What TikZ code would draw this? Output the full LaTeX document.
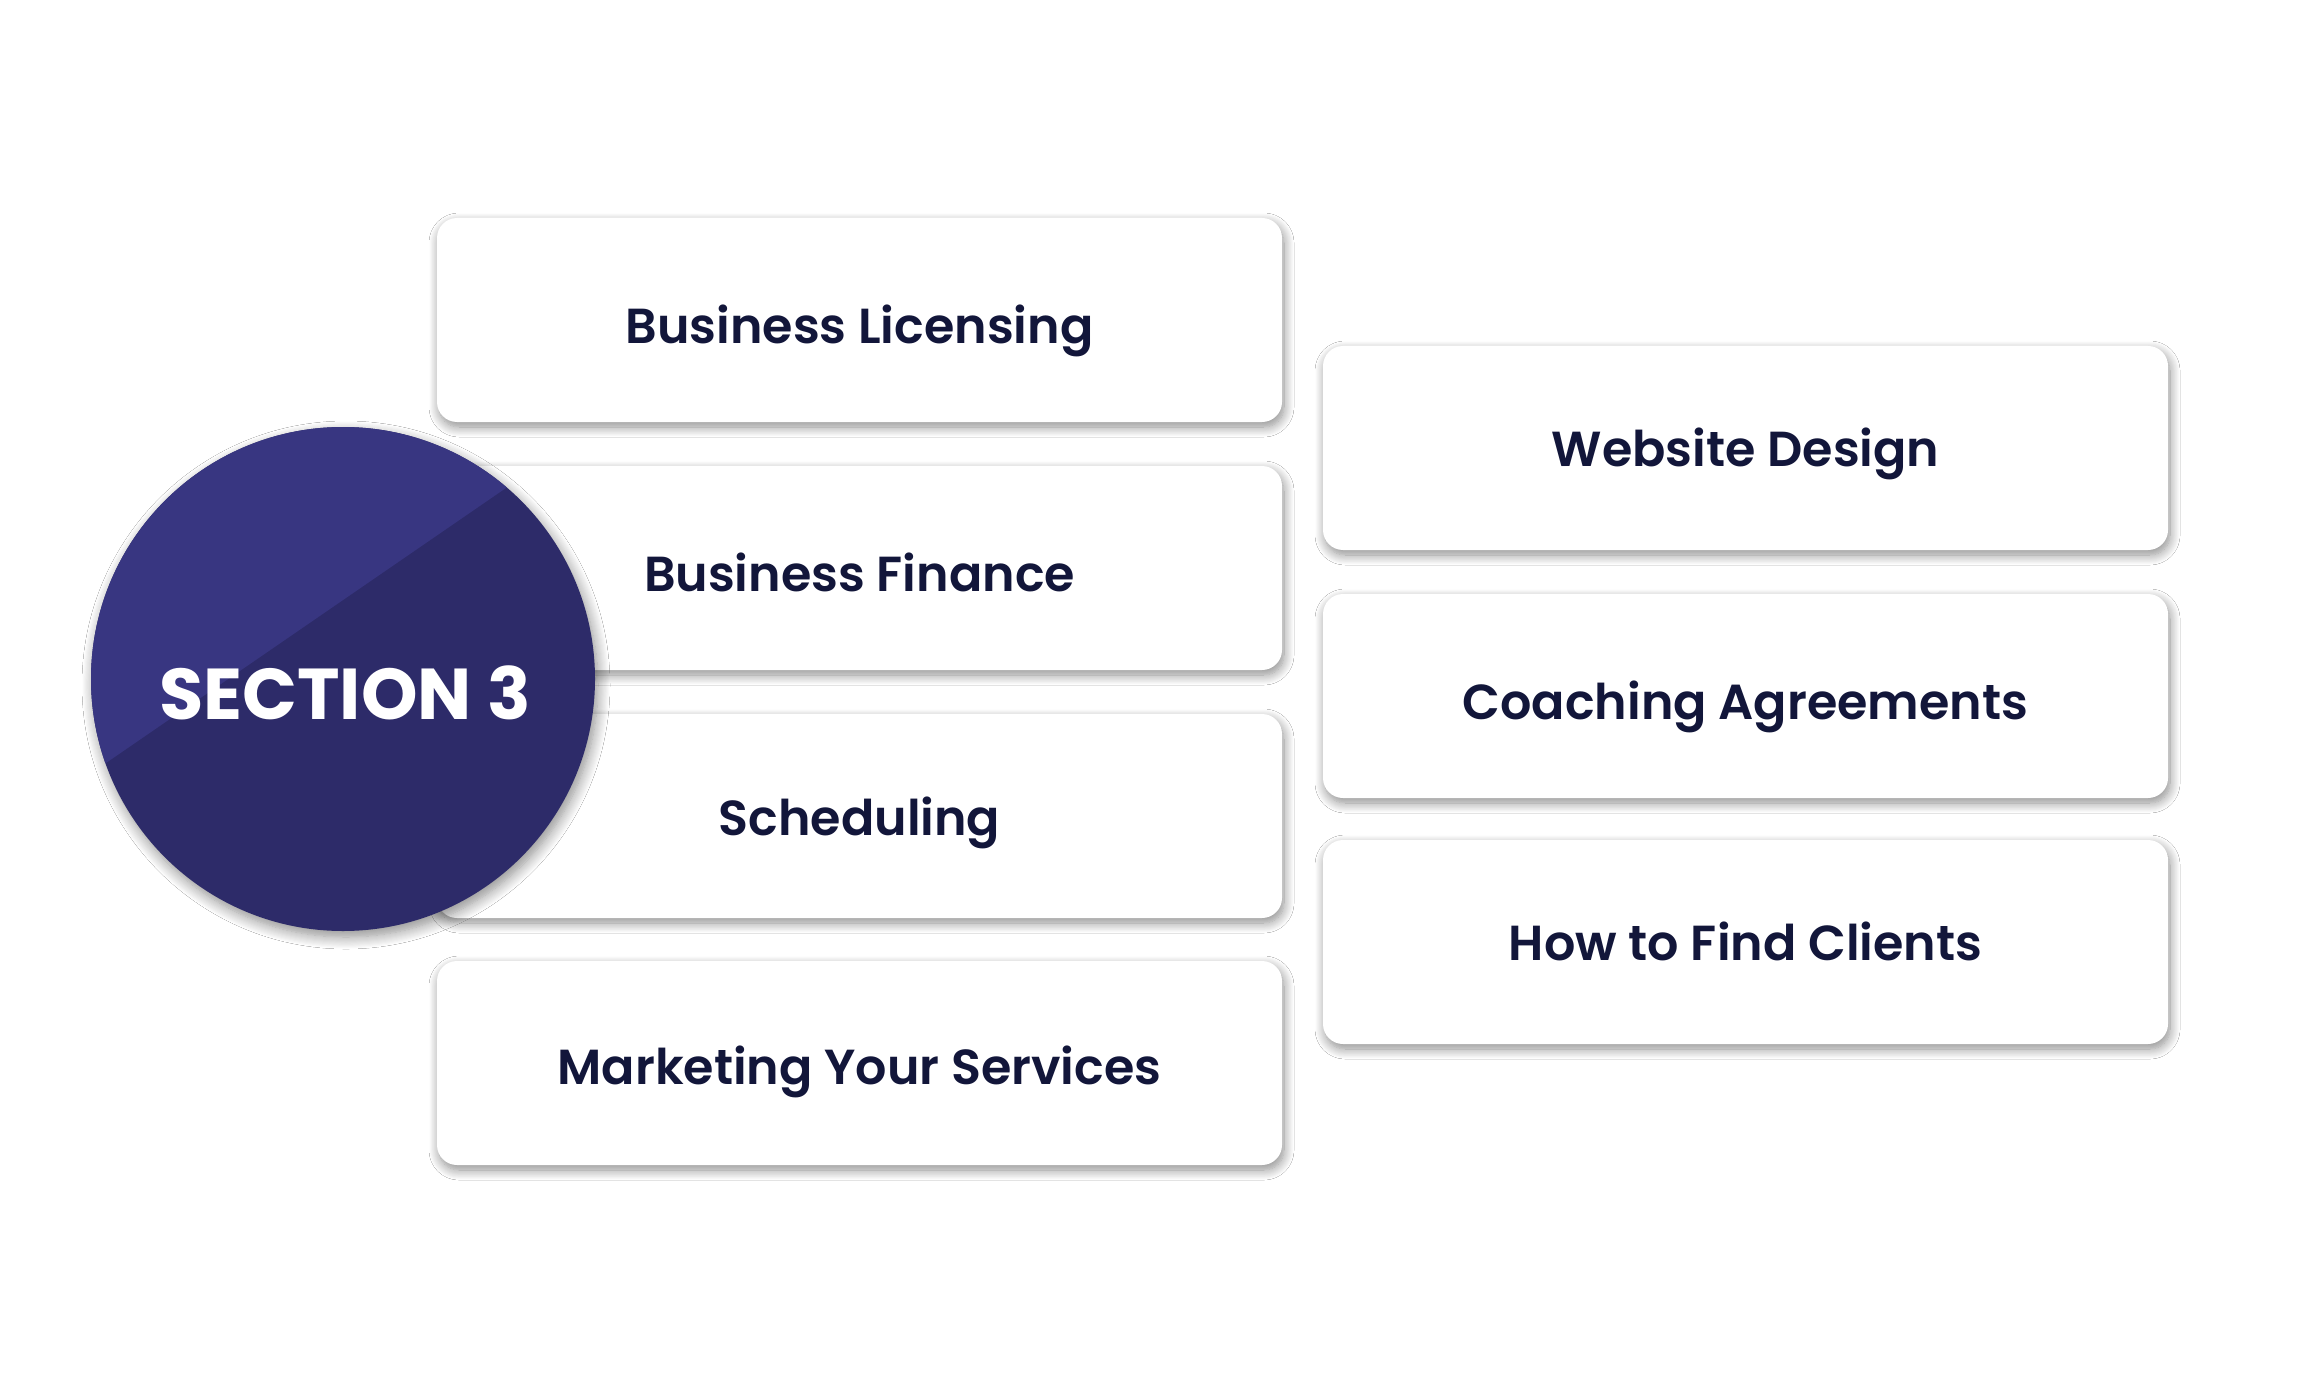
\documentclass[tikz,border=0pt]{standalone}
\usepackage{fontspec}
\setmainfont{Poppins}[UprightFont=* SemiBold, BoldFont=* Bold]
\usetikzlibrary{shadows.blur}
\definecolor{navy}{HTML}{12163A}
\definecolor{cdark}{HTML}{2D2B69}
\definecolor{clight}{HTML}{383681}
\begin{document}
\begin{tikzpicture}[x=0.5pt,y=-0.5pt,
  box/.style={fill=white, rounded corners=10pt, minimum width=422.5pt, minimum height=102pt,
    blur shadow={shadow blur steps=12, shadow xshift=1pt, shadow yshift=-2.5pt, shadow opacity=45, shadow blur radius=5pt},
    font=\fontsize{24.6}{28}\selectfont, text=navy, inner sep=0pt, text height=23.4pt, text depth=0pt},
  secnode/.style={circle, minimum size=252pt, inner sep=0pt, fill=cdark,
    blur shadow={shadow blur steps=12, shadow xshift=1.5pt, shadow yshift=-3pt, shadow opacity=45, shadow blur radius=6pt}},
  sectext/.style={font=\fontsize{36}{40}\selectfont\bfseries, text=white, inner sep=0pt}
]
\useasboundingbox[fill=white] (0,0) rectangle (2300,1390);
% left column
\node[box] (bl) at (859.5,320) {Business Licensing};
\node[box] (bf) at (859.5,568) {Business Finance};
\node[box, text height=19pt] (sc) at (859.5,816) {Scheduling};
\node[box, text height=21pt] (mk) at (859.5,1063) {Marketing Your Services};
% right column
\node[box, text height=18pt] (wd) at (1745.5,448) {Website Design};
\node[box] (ca) at (1745.5,696) {Coaching Agreements};
\node[box, text height=18pt] (hf) at (1745.5,942) {How to Find Clients};
% section circle
\node[secnode] (sec) at (343,679) {};
\begin{scope}
  \clip (sec.center) circle[radius=126pt];
  \fill[clight] (-94,900.5) -- (706,350.5) -- (706,0) -- (-94,0) -- cycle;
\end{scope}
\node[sectext] (st) at (345,693) {SECTION 3};
\end{tikzpicture}
\end{document}
